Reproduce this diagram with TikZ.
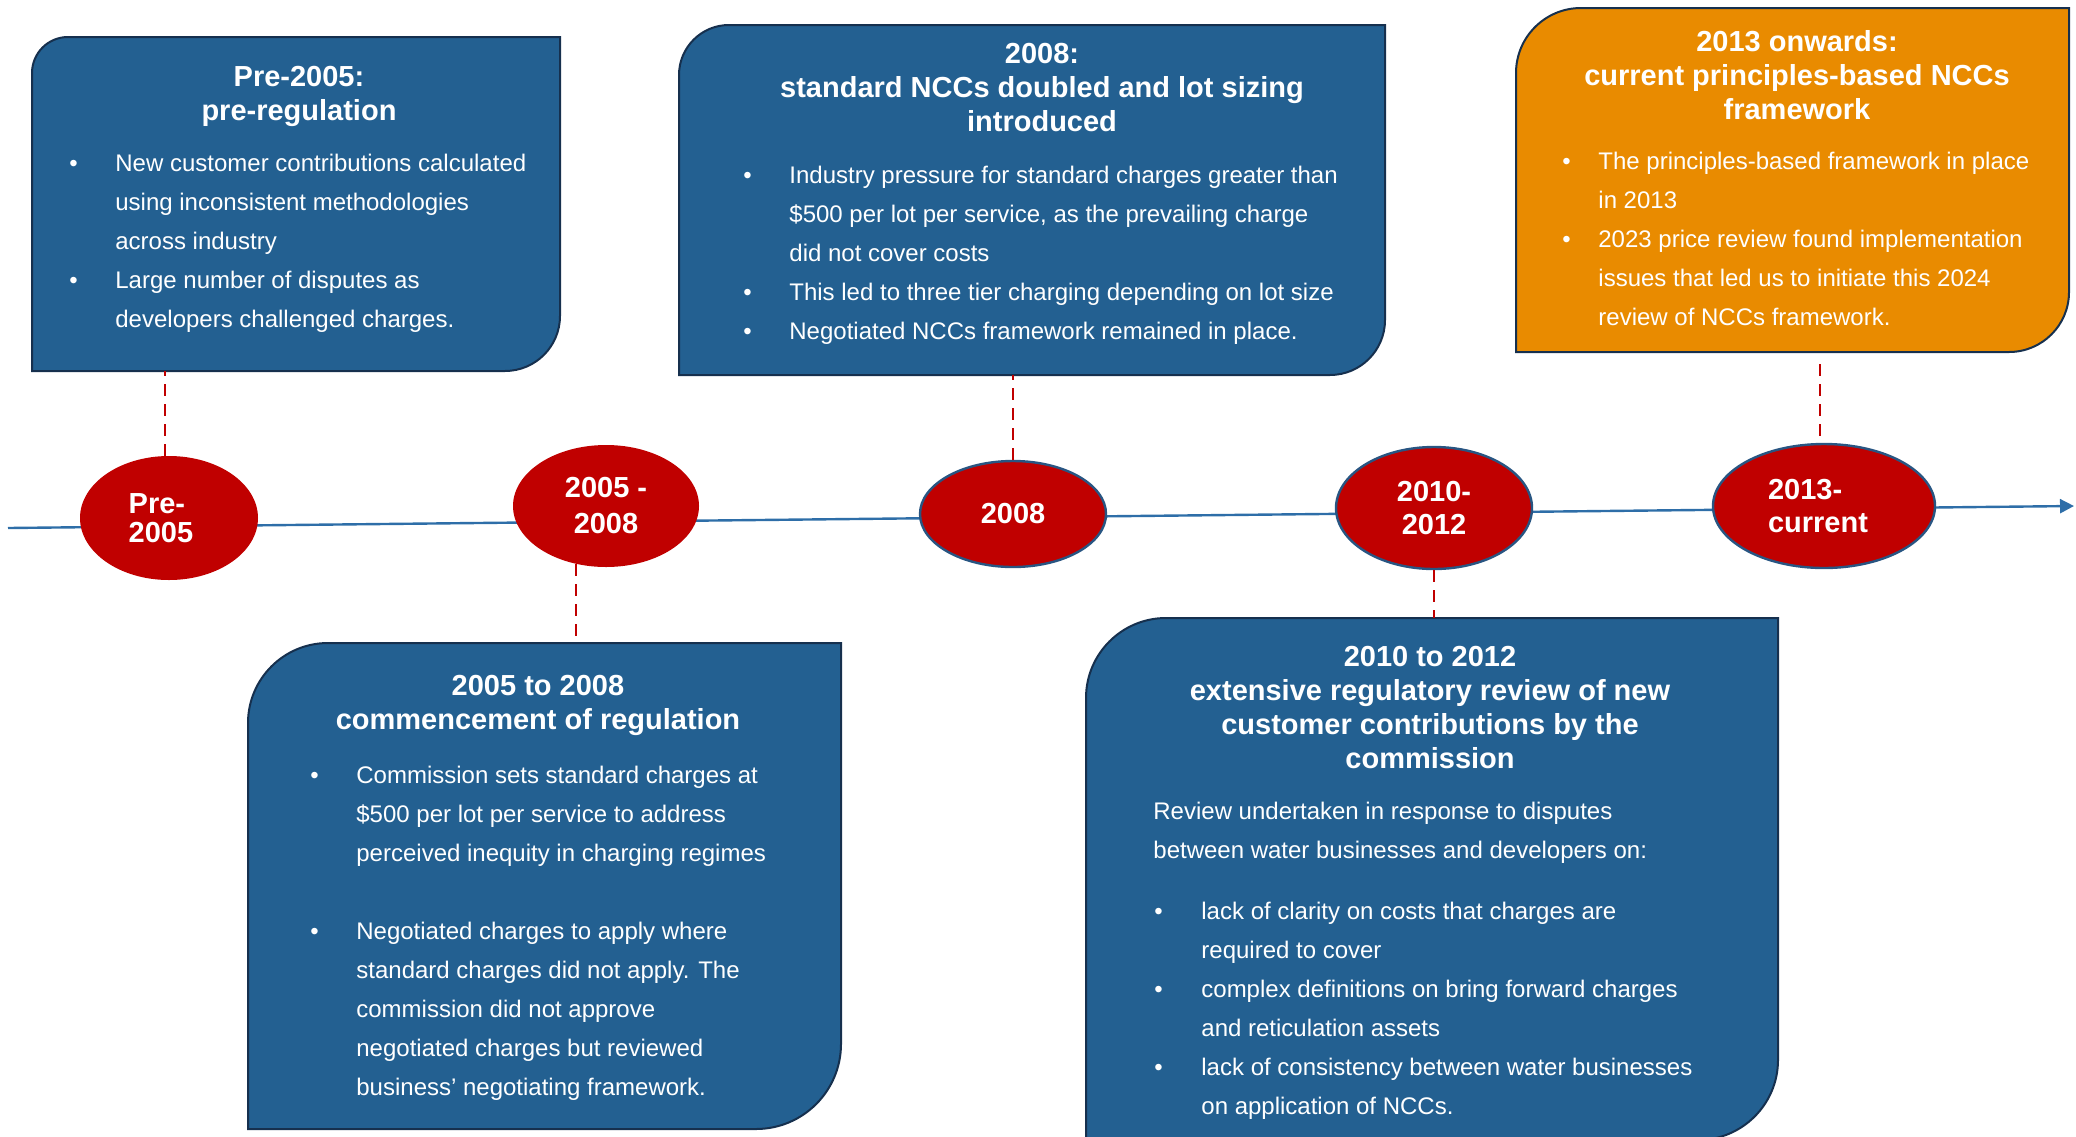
\documentclass[tikz,border=0pt]{standalone}
\usepackage{fontspec}
\setmainfont{Liberation Sans}
\usetikzlibrary{positioning, calc}
\usetikzlibrary{shapes.geometric, arrows.meta}

\definecolor{boxblue}{RGB}{35,96,145}
\definecolor{boxline}{RGB}{22,48,78}
\definecolor{boxorange}{RGB}{233,139,0}
\definecolor{yearred}{RGB}{192,0,0}
\definecolor{lineblue}{RGB}{46,110,168}
\definecolor{ringblue}{RGB}{40,85,130}

% box outline: rounded top left and bottom right corners
\newcommand{\boxshape}[4]{%
	\filldraw[fill=#2, draw=boxline, line width=1pt]
		(#1.south west) -- ($(#1.north west)+(0,#3)$)
		arc[start angle=180, end angle=270, radius=#3]
		-- (#1.north east) -- ($(#1.south east)+(0,-#4)$)
		arc[start angle=0, end angle=90, radius=#4] -- cycle;}

\begin{document}
\begin{tikzpicture}[x=0.5pt, y=-0.5pt,
		boxnode/.style={inner sep=0pt, outer sep=0pt},
		titletext/.style={text=white, font=\bfseries\fontsize{14.5}{17}\selectfont, inner sep=0pt, anchor=base},
		bodytext/.style={text=white, font=\fontsize{12}{19.5}\selectfont, inner sep=0pt, anchor=base west},
		yearnode/.style={ellipse, fill=yearred, text=white, font=\bfseries\fontsize{14.5}{16.5}\selectfont, inner sep=0pt},
		ringed/.style={draw=ringblue, line width=1.2pt},
		link/.style={draw=yearred, line width=1pt, dash pattern=on 6pt off 4pt},
		timeline/.style={draw=lineblue, line width=1.2pt, -{Triangle[length=7pt, width=7pt]}}]
	\useasboundingbox (0,0) rectangle (2076,1136);

	% time axis
	\coordinate (t0) at (8,528);
	\coordinate (t1) at (2074,506);
	\draw[timeline] (t0) -- (t1);

	% year markers
	\node[yearnode, minimum width=89pt, minimum height=62pt, align=left] (e1) at (169,518) {Pre-\\[-2pt]2005\hspace*{8pt}};
	\node[yearnode, minimum width=93pt, minimum height=61pt, align=center] (e2) at (606,506) {2005 -\\[1.5pt]2008};
	\node[yearnode, ringed, minimum width=93pt, minimum height=53pt] (e3) at (1013,514) {2008};
	\node[yearnode, ringed, minimum width=98pt, minimum height=61pt, align=center] (e4) at (1434,508) {2010-\\2012};
	\node[yearnode, ringed, minimum width=111pt, minimum height=62pt, align=left] (e5) at (1824,506) {2013-\\current\hspace*{6pt}};

	% Pre-2005
	\node[boxnode, minimum width=264pt, minimum height=167pt] (b1) at (296,204) {};
	\boxshape{b1}{boxblue}{36}{55}
	\node[titletext] (b1t) at ($(b1.north)+(3,49)$) {\begin{tabular}[t]{@{}c@{}}Pre-2005:\\pre-regulation\end{tabular}};
	\node[bodytext] (b1x) at ($(b1.north west)+(37,134)$) {\begin{tabular}[t]{@{}p{23pt}@{}l@{}}
		\textbullet & New customer contributions calculated\\
		& using inconsistent methodologies\\
		& across industry\\
		\textbullet & Large number of disputes as\\
		& developers challenged charges.
	\end{tabular}};

	% 2008
	\node[boxnode, minimum width=353pt, minimum height=175pt] (b2) at (1032,200) {};
	\boxshape{b2}{boxblue}{50}{55}
	\node[titletext] (b2t) at ($(b2.north)+(10,38)$) {\begin{tabular}[t]{@{}c@{}}2008:\\standard NCCs doubled and lot sizing\\introduced\end{tabular}};
	\node[bodytext] (b2x) at ($(b2.north west)+(64,158)$) {\begin{tabular}[t]{@{}p{23pt}@{}l@{}}
		\textbullet & Industry pressure for standard charges greater than\\
		& \$500 per lot per service, as the prevailing charge\\
		& did not cover costs\\
		\textbullet & This led to three tier charging depending on lot size\\
		\textbullet & Negotiated NCCs framework remained in place.
	\end{tabular}};

	% 2013 onwards
	\node[boxnode, minimum width=276.5pt, minimum height=172pt] (b3) at (1792.5,180) {};
	\boxshape{b3}{boxorange}{65}{60}
	\node[titletext] (b3t) at ($(b3.north)+(4.5,43)$) {\begin{tabular}[t]{@{}c@{}}2013 onwards:\\current principles-based NCCs\\framework\end{tabular}};
	\node[bodytext] (b3x) at ($(b3.north west)+(46,161)$) {\begin{tabular}[t]{@{}p{18pt}@{}l@{}}
		\textbullet & The principles-based framework in place\\
		& in 2013\\
		\textbullet & 2023 price review found implementation\\
		& issues that led us to initiate this 2024\\
		& review of NCCs framework.
	\end{tabular}};

	% 2005 to 2008
	\node[boxnode, minimum width=296.5pt, minimum height=243pt] (b4) at (544.5,886) {};
	\boxshape{b4}{boxblue}{80}{85}
	\node[titletext] (b4t) at ($(b4.north)+(-6.5,52)$) {\begin{tabular}[t]{@{}c@{}}2005 to 2008\\commencement of regulation\end{tabular}};
	\node[bodytext] (b4x) at ($(b4.north west)+(62,140)$) {\begin{tabular}[t]{@{}p{23pt}@{}l@{}}
		\textbullet & Commission sets standard charges at\\
		& \$500 per lot per service to address\\
		& perceived inequity in charging regimes\\
		& \\
		\textbullet & Negotiated charges to apply where\\
		& standard charges did not apply. The\\
		& commission did not approve\\
		& negotiated charges but reviewed\\
		& business’ negotiating framework.
	\end{tabular}};

	% 2010 to 2012
	\node[boxnode, minimum width=346pt, minimum height=261pt] (b5) at (1432,879) {};
	\boxshape{b5}{boxblue}{80}{80}
	\node[titletext] (b5t) at ($(b5.north)+(-2,48)$) {\begin{tabular}[t]{@{}c@{}}2010 to 2012\\extensive regulatory review of new\\customer contributions by the\\commission\end{tabular}};
	\node[bodytext] (b5p) at ($(b5.north west)+(67,201)$) {\begin{tabular}[t]{@{}l@{}}
		Review undertaken in response to disputes\\
		between water businesses and developers on:
	\end{tabular}};
	\node[bodytext] (b5x) at ($(b5.north west)+(68,301)$) {\begin{tabular}[t]{@{}p{23.5pt}@{}l@{}}
		\textbullet & lack of clarity on costs that charges are\\
		& required to cover\\
		\textbullet & complex definitions on bring forward charges\\
		& and reticulation assets\\
		\textbullet & lack of consistency between water businesses\\
		& on application of NCCs.
	\end{tabular}};

	% dashed links
	\draw[link] ($(e1.north)+(-4,0)$) -- ($(e1.north |- b1.south)+(-4,0)$);
	\draw[link] (e2.243) -- (e2.243 |- b4.north);
	\draw[link] (e3.north) -- (e3.north |- b2.south);
	\draw[link] (e4.south) -- (e4.south |- b5.north);
	\draw[link] ($(e5.north)+(-4,-7)$) -- ($(e5.north |- b3.south)+(-4,5)$);
\end{tikzpicture}
\end{document}
